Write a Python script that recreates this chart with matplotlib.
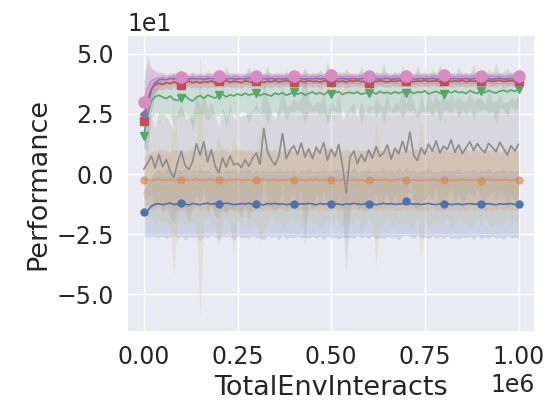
import numpy as np
import matplotlib
matplotlib.use("Agg")
import matplotlib.pyplot as plt
import seaborn as sns

# Training curves: mean performance and spread per run configuration
steps = np.arange(101) * 1e4

blue = [-16.0, -15.2, -13.4, -12.6, -12.3, -12.8, -12.4, -12.1, -12.7, -12.5,
        -12.2, -12.6, -12.9, -12.3, -12.5, -12.8, -12.4, -12.2, -12.6, -12.3,
        -12.7, -12.5, -12.1, -12.4, -12.8, -12.6, -12.3, -12.5, -12.2, -12.7,
        -12.4, -12.6, -12.9, -12.3, -12.5, -12.2, -12.6, -12.4, -12.8, -12.5,
        -12.3, -12.7, -12.4, -12.6, -12.2, -12.5, -12.8, -12.3, -12.6, -12.4,
        -12.7, -12.3, -12.5, -12.9, -12.4, -12.6, -12.2, -12.5, -12.7, -12.3,
        -12.6, -12.4, -12.8, -12.5, -12.2, -12.6, -12.3, -12.7, -12.5, -12.4,
        -11.3, -12.3, -12.6, -12.4, -12.7, -12.5, -12.2, -12.6, -12.8, -12.4,
        -12.5, -12.3, -12.7, -12.6, -12.4, -12.8, -12.5, -12.3, -12.6, -12.4,
        -12.7, -12.5, -12.3, -12.6, -12.8, -12.4, -12.6, -12.5, -12.3, -12.7, -12.5]
blue_sd = [10, 11, 12.5, 13.5, 14.2, 13.1, 14.6, 13.8, 12.9, 14.4,
           13.6, 14.9, 13.2, 14.1, 13.7, 15.2, 13.4, 14.3, 12.8, 13.9,
           14.7, 13.3, 14.0, 13.6, 14.8, 13.1, 14.2, 13.7, 14.5, 13.0,
           14.1, 13.8, 14.6, 13.3, 14.0, 13.5, 14.9, 13.2, 14.3, 13.7,
           14.4, 13.1, 14.2, 13.8, 14.6, 13.4, 14.0, 13.6, 14.7, 13.2,
           14.1, 13.9, 14.5, 13.3, 14.2, 13.7, 14.8, 13.1, 14.0, 13.6,
           14.4, 13.2, 14.3, 13.8, 14.6, 13.4, 14.1, 13.5, 14.9, 13.3,
           14.2, 13.7, 14.5, 13.0, 14.1, 13.8, 14.7, 13.2, 14.0, 13.6,
           14.4, 13.3, 14.2, 13.9, 14.6, 13.4, 14.0, 13.5, 14.8, 13.2,
           14.3, 13.7, 14.5, 13.1, 14.1, 13.8, 14.6, 13.3, 14.2, 13.6, 14.4]

orange = [-2.6, -2.3, -2.8, -2.4, -2.1, -2.7, -2.5, -2.2, -2.9, -2.4,
          -2.6, -2.3, -2.7, -2.5, -2.1, -2.8, -2.4, -2.6, -2.2, -2.7,
          -2.5, -2.3, -2.8, -2.4, -2.6, -2.2, -2.7, -2.5, -2.3, -2.9,
          -2.4, -2.6, -2.1, -2.7, -2.5, -2.3, -2.8, -2.4, -2.6, -2.2,
          -2.7, -2.5, -2.3, -2.8, -2.4, -2.6, -2.2, -2.7, -2.5, -2.3,
          -2.6, -2.4, -2.8, -2.2, -2.5, -2.7, -2.3, -2.6, -2.4, -2.9,
          -2.5, -2.2, -2.7, -2.4, -2.6, -2.3, -2.8, -2.5, -2.2, -2.6,
          -2.4, -2.7, -2.3, -2.5, -2.8, -2.4, -2.6, -2.2, -2.7, -2.5,
          -2.3, -2.6, -2.4, -2.8, -2.5, -2.2, -2.7, -2.4, -2.6, -2.3,
          -2.8, -2.5, -2.2, -2.6, -2.4, -2.7, -2.3, -2.5, -2.8, -2.4, -2.6]
orange_sd = [10, 11, 12, 12.5, 11.8, 13.2, 12.4, 11.6, 12.9, 12.1,
             12.7, 11.9, 13.0, 12.3, 11.7, 12.8, 12.2, 13.1, 11.8, 12.6,
             12.0, 13.3, 12.4, 11.9, 12.7, 12.1, 13.0, 11.6, 12.5, 12.9,
             12.2, 11.8, 13.2, 12.4, 12.0, 12.8, 11.7, 12.6, 13.1, 12.3,
             11.9, 12.7, 12.2, 13.0, 12.5, 11.8, 12.9, 12.1, 12.6, 13.2,
             12.4, 11.7, 12.8, 12.0, 13.1, 12.3, 11.9, 12.7, 12.2, 12.9,
             12.5, 11.8, 13.0, 12.1, 12.6, 12.4, 11.6, 12.8, 13.2, 12.0,
             12.7, 12.3, 11.9, 12.9, 12.2, 13.1, 12.5, 11.8, 12.6, 12.4,
             13.0, 12.1, 12.7, 11.9, 12.8, 12.3, 13.2, 12.0, 12.6, 12.5,
             11.8, 12.9, 12.2, 13.0, 12.4, 11.7, 12.8, 12.1, 12.6, 12.3, 12.7]

green = [16.0, 25.0, 30.5, 32.2, 32.8, 32.0, 31.4, 32.5, 31.0, 30.6,
         31.8, 32.6, 31.2, 30.4, 31.9, 32.7, 31.5, 32.9, 32.2, 31.6,
         32.8, 33.3, 32.1, 33.0, 32.5, 33.4, 32.7, 33.6, 32.9, 33.2,
         33.8, 32.6, 33.5, 33.0, 32.4, 33.7, 33.1, 33.9, 32.8, 33.4,
         34.0, 33.2, 33.8, 32.9, 33.5, 34.2, 33.3, 33.9, 33.0, 34.1,
         33.4, 33.9, 34.3, 33.1, 33.8, 34.0, 33.5, 34.2, 33.2, 33.7,
         33.6, 34.1, 33.3, 34.4, 33.7, 34.0, 33.4, 34.3, 33.6, 34.1,
         33.8, 34.5, 33.5, 34.2, 33.9, 34.6, 33.3, 34.0, 34.4, 33.7,
         33.2, 34.3, 33.8, 34.6, 33.9, 34.2, 33.5, 34.7, 34.0, 33.6,
         34.4, 33.9, 34.8, 34.1, 33.7, 34.5, 34.9, 34.2, 35.0, 34.4, 35.3]
green_sd = [6, 8, 7.5, 6.8, 7.2, 9.5, 6.4, 7.9, 11.2, 6.9,
            7.4, 8.8, 6.6, 12.5, 7.1, 8.2, 6.7, 10.4, 7.5, 6.9,
            8.6, 7.2, 13.1, 6.8, 7.7, 9.3, 6.5, 8.0, 11.8, 7.3,
            6.9, 8.4, 7.6, 12.2, 6.7, 7.9, 9.0, 6.8, 10.6, 7.4,
            8.1, 6.6, 7.8, 11.5, 7.0, 8.5, 6.9, 9.7, 7.3, 12.8,
            6.8, 7.6, 8.9, 6.5, 10.2, 7.4, 8.0, 6.7, 11.9, 7.2,
            8.3, 6.9, 9.6, 7.5, 12.4, 6.8, 7.7, 8.6, 6.6, 10.8,
            7.3, 8.2, 6.9, 11.3, 7.6, 8.8, 6.7, 9.9, 7.1, 12.0,
            6.8, 7.9, 8.4, 6.6, 10.5, 7.4, 8.7, 6.9, 11.6, 7.2,
            8.0, 6.8, 9.4, 7.5, 12.6, 6.9, 7.8, 10.1, 6.7, 8.3, 7.4]

red = [22.0, 30.5, 35.5, 37.2, 37.8, 37.3, 38.1, 37.6, 38.4, 37.9,
       37.2, 38.3, 38.7, 38.0, 38.5, 37.9, 38.6, 38.2, 38.8, 38.1,
       38.6, 38.3, 38.9, 38.2, 38.7, 38.4, 38.0, 38.8, 38.5, 38.2,
       38.9, 38.6, 38.1, 38.7, 38.4, 38.9, 38.3, 38.6, 39.0, 38.5,
       38.2, 38.8, 38.6, 38.3, 38.9, 38.5, 38.7, 38.2, 38.8, 38.6,
       38.4, 38.9, 38.5, 38.7, 38.3, 38.8, 38.6, 39.0, 38.4, 38.7,
       37.9, 38.8, 38.5, 38.9, 38.6, 38.3, 38.8, 38.5, 38.9, 38.7,
       38.6, 38.9, 38.4, 38.8, 38.6, 39.0, 38.5, 38.7, 38.9, 38.4,
       38.7, 38.9, 38.5, 38.8, 38.6, 39.0, 38.4, 38.8, 38.6, 38.9,
       38.7, 38.5, 38.9, 38.6, 38.8, 39.1, 38.5, 38.7, 38.9, 38.6, 38.8]
red_sd = [8, 6, 4, 3, 2.6, 2.4, 2.2, 2.5, 2.1, 2.3,
          2.6, 2.2, 2.4, 2.0, 2.5, 2.3, 2.1, 2.6, 2.2, 2.4,
          2.0, 2.5, 2.3, 2.1, 2.6, 2.2, 2.4, 2.0, 2.5, 2.3,
          2.2, 2.6, 2.1, 2.4, 2.3, 2.0, 2.5, 2.2, 2.4, 2.1,
          2.6, 2.3, 2.0, 2.5, 2.2, 2.4, 2.1, 2.6, 2.3, 2.0,
          2.5, 2.2, 2.4, 2.1, 2.6, 2.3, 2.0, 2.5, 2.2, 2.4,
          2.1, 2.6, 2.3, 2.0, 2.5, 2.2, 2.4, 2.1, 2.6, 2.3,
          2.0, 2.5, 2.2, 2.4, 2.1, 2.6, 2.3, 2.0, 2.5, 2.2,
          2.4, 2.1, 2.6, 2.3, 2.0, 2.5, 2.2, 2.4, 2.1, 2.6,
          2.3, 2.0, 2.5, 2.2, 2.4, 2.1, 2.6, 2.3, 2.0, 2.5, 2.2]

purple = [25.0, 29.0, 35.0, 38.0, 39.2, 39.5, 39.3, 39.8, 39.6, 39.9,
          39.4, 39.7, 39.5, 39.9, 39.6, 39.8, 39.4, 39.7, 39.9, 39.5,
          39.8, 39.6, 39.4, 39.9, 39.7, 39.5, 39.8, 39.6, 39.9, 39.4,
          39.7, 39.5, 39.8, 39.6, 39.9, 39.4, 39.7, 39.5, 39.8, 39.6,
          39.9, 39.5, 39.7, 39.4, 39.8, 39.6, 39.9, 39.5, 39.7, 39.6,
          39.8, 39.4, 39.7, 39.9, 39.5, 39.6, 39.8, 39.4, 39.7, 39.9,
          39.5, 39.6, 39.8, 39.4, 39.7, 39.9, 39.5, 39.6, 39.8, 39.4,
          39.7, 39.9, 39.5, 39.6, 39.8, 39.4, 39.7, 39.9, 39.5, 39.6,
          39.8, 39.4, 39.7, 39.9, 39.5, 39.6, 39.8, 39.4, 39.7, 39.9,
          39.5, 39.6, 39.8, 39.4, 39.7, 39.9, 39.5, 39.6, 39.8, 39.4, 39.7]
purple_sd = [14, 20, 9, 5, 3, 2.5, 2.2, 2.0, 2.3, 2.1,
             2.0, 2.2, 2.1, 2.3, 2.0, 2.2, 2.1, 2.0, 2.3, 2.1,
             2.2, 2.0, 2.1, 2.3, 2.2, 2.0, 2.1, 2.2, 2.3, 2.0,
             2.1, 2.2, 2.0, 2.3, 2.1, 2.2, 2.0, 2.1, 2.3, 2.2,
             2.0, 2.1, 2.2, 2.3, 2.0, 2.1, 2.2, 2.0, 2.3, 2.1,
             2.2, 2.0, 2.1, 2.3, 2.2, 2.0, 2.1, 2.2, 2.3, 2.0,
             2.1, 2.2, 2.0, 2.3, 2.1, 2.2, 2.0, 2.1, 2.3, 2.2,
             2.0, 2.1, 2.2, 2.3, 2.0, 2.1, 2.2, 2.0, 2.3, 2.1,
             2.2, 2.0, 2.1, 2.3, 2.2, 2.0, 2.1, 2.2, 2.3, 2.0,
             2.1, 2.2, 2.0, 2.3, 2.1, 2.2, 2.0, 2.1, 2.3, 2.2, 2.1]

pink = [30.0, 36.0, 39.0, 39.6, 40.1, 40.3, 39.8, 40.4, 40.6, 40.2,
        40.5, 40.9, 40.3, 40.6, 40.1, 40.7, 40.4, 40.8, 40.2, 40.6,
        40.9, 40.4, 40.7, 40.3, 40.8, 40.5, 40.1, 40.6, 40.9, 40.4,
        40.7, 40.2, 40.6, 40.8, 40.3, 40.7, 40.5, 40.9, 40.4, 40.6,
        41.0, 40.5, 40.3, 40.8, 40.6, 40.2, 40.7, 40.9, 40.4, 40.6,
        41.1, 40.6, 40.3, 40.8, 40.5, 40.9, 40.4, 40.6, 40.8, 40.3,
        40.9, 40.5, 40.7, 40.2, 40.8, 40.6, 40.4, 40.9, 40.5, 40.7,
        41.0, 40.4, 40.6, 40.9, 40.3, 40.7, 40.5, 40.8, 40.6, 40.4,
        41.1, 40.6, 40.8, 40.3, 40.7, 40.9, 40.5, 40.6, 40.8, 40.4,
        41.0, 40.7, 40.5, 40.9, 40.6, 40.8, 40.4, 40.7, 40.9, 40.6, 40.8]
pink_sd = [9, 9, 5, 3, 2.4, 2.0, 1.8, 1.6, 1.9, 1.7,
           1.5, 1.8, 1.6, 1.9, 1.7, 1.5, 1.8, 1.6, 1.9, 1.7,
           1.6, 1.8, 1.5, 1.9, 1.7, 1.6, 1.8, 1.5, 1.9, 1.7,
           1.6, 1.8, 1.5, 1.9, 1.7, 1.6, 1.8, 1.5, 1.9, 1.7,
           1.6, 1.8, 1.5, 1.9, 1.7, 1.6, 1.8, 1.5, 1.9, 1.7,
           1.6, 1.8, 1.5, 1.9, 1.7, 1.6, 1.8, 1.5, 1.9, 1.7,
           1.6, 1.8, 1.5, 1.9, 1.7, 1.6, 1.8, 1.5, 1.9, 1.7,
           1.6, 1.8, 1.5, 1.9, 1.7, 1.6, 1.8, 1.5, 1.9, 1.7,
           1.6, 1.8, 1.5, 1.9, 1.7, 1.6, 1.8, 1.5, 1.9, 1.7,
           1.6, 1.8, 1.5, 1.9, 1.7, 1.6, 1.8, 1.5, 1.9, 1.7, 1.6]

gray = [2.0, 4.6, 7.5, 2.5, 8.2, 3.0, 6.1, 1.2, -1.5, 4.8,
        9.4, 3.6, 1.8, 5.2, 12.6, 7.8, 13.4, 5.0, 10.2, 3.4,
        0.5, 6.8, 2.9, 7.6, 3.8, 4.4, 2.7, 5.9, 3.2, 6.5,
        8.8, 4.1, 19.0, 9.2, 6.0, 3.7, 7.4, 16.8, 6.3, 9.7,
        11.8, 8.1, 12.9, 7.0, 10.5, 6.4, 11.2, 8.6, 13.1, 5.8,
        10.3, 7.2, 12.4, 3.5, -8.0, 6.9, 9.6, 4.3, 8.1, 5.2,
        9.9, 6.6, 11.4, 7.3, 8.8, 12.1, 6.2, 10.7, 8.4, 13.6,
        9.1, 17.5, 7.8, 5.6, 10.9, 8.3, 12.5, 9.4, 13.8, 8.7,
        11.6, 10.2, 14.3, 9.0, 12.2, 8.5, 11.0, 13.5, 9.8, 12.7,
        10.4, 8.9, 12.8, 11.1, 9.3, 13.2, 10.6, 7.9, 11.7, 9.6, 12.4]
gray_sd = [12, 14, 16, 17, 18, 19, 18, 20, 19, 21,
           20, 19, 22, 18, 21, 20, 19, 22, 20, 21,
           19, 21, 20, 22, 19, 20, 21, 19, 22, 20,
           21, 19, 20, 22, 20, 19, 21, 20, 22, 19,
           20, 21, 19, 37, 20, 22, 19, 21, 20, 19,
           21, 20, 22, 19, 33, 21, 20, 19, 22, 20,
           19, 21, 20, 22, 19, 21, 20, 19, 21, 22,
           20, 19, 21, 20, 22, 19, 21, 20, 19, 21,
           22, 20, 19, 21, 20, 22, 19, 21, 20, 19,
           21, 20, 22, 19, 21, 20, 19, 22, 20, 21, 20]

olive = [-8.0, -6.5, -4.2, -7.1, -3.5, -6.8, -5.0, -8.2, -4.6, -6.3,
         -3.9, -7.4, -5.5, -4.1, -6.9, -5.0, -5.2, -3.8, -6.6, -4.9,
         -7.7, -5.8, -3.6, -6.2, -8.4, -4.7, -5.9, -3.3, -7.0, -5.1,
         -6.4, -4.0, -7.9, -5.3, -3.7, -6.7, -4.5, -8.1, -5.6, -3.9,
         -6.0, -4.3, -7.2, -5.0, -3.5, -6.8, -4.8, -7.5, -5.4, -4.1,
         -6.6, -3.8, -5.7, -7.3, -4.4, -6.1, -5.0, -3.6, -7.8, -5.2,
         -4.0, -6.5, -8.9, -4.6, -5.9, -3.4, -7.0, -5.5, -4.2, -6.3,
         -4.9, -7.6, -5.3, -3.7, -6.4, -4.5, -7.1, -5.8, -3.9, -6.0,
         -5.1, -4.3, -7.4, -5.6, -3.8, -6.7, -4.7, -7.9, -5.0, -4.1,
         -6.2, -3.6, -5.4, -7.2, -4.4, -6.9, -5.2, -3.5, -6.6, -4.8, -5.7]
olive_sd = [8, 12, 13.5, 14.2, 15.0, 13.8, 14.6, 15.3, 38, 14.1,
            15.2, 13.7, 14.8, 16.0, 14.3, 55, 15.1, 13.9, 14.7, 15.4,
            23.5, 14.2, 15.0, 13.6, 24.6, 14.9, 15.5, 14.0, 16.2, 14.4,
            15.1, 25, 14.3, 15.7, 13.9, 14.8, 15.4, 14.1, 16.0, 14.6,
            15.2, 14.0, 15.8, 14.5, 15.0, 13.8, 15.6, 14.2, 16.1, 14.7,
            15.3, 14.1, 15.9, 14.4, 15.0, 14.6, 15.5, 13.9, 16.3, 14.8,
            15.1, 14.3, 31, 14.9, 15.6, 14.0, 15.3, 14.5, 16.0, 14.2,
            15.4, 14.7, 15.9, 14.1, 28.6, 14.8, 15.2, 14.4, 16.1, 14.6,
            15.0, 14.2, 15.7, 14.9, 15.3, 14.0, 15.8, 14.5, 16.2, 14.3,
            15.5, 14.7, 15.1, 14.4, 15.9, 14.1, 15.6, 14.8, 15.2, 14.5, 15.0]

sns.set_theme(style="darkgrid")
pal = sns.color_palette("deep")

fig = plt.figure(figsize=(5.53, 4.03), dpi=100)
ax = fig.add_axes([0.2297, 0.1762, 0.7378, 0.7370])

series = [
    (blue, blue_sd, pal[0], "o", 5, 1.0),
    (orange, orange_sd, pal[1], "o", 5, 0.6),
    (green, green_sd, pal[2], "v", 6, 1.0),
    (red, red_sd, pal[3], "s", 6, 1.0),
    (purple, purple_sd, pal[4], "D", 4, 1.0),
    (pink, pink_sd, pal[6], "o", 8, 1.0),
    (gray, gray_sd, pal[7], None, 0, 1.0),
    (olive, olive_sd, pal[8], None, 0, 0.5),
]

for mean, sd, col, mk, ms, la in series:
    m = np.asarray(mean)
    s = np.asarray(sd)
    ax.fill_between(steps, m - s, m + s, color=col, alpha=0.2, linewidth=0)
    ax.plot(steps, m, color=col, lw=1.2, alpha=la, marker=mk, ms=ms,
            markevery=(0, 10))

ax.set_xlim(-0.045e6, 1.044e6)
ax.set_ylim(-65.8, 57.9)
ax.set_xticks([0, 0.25e6, 0.5e6, 0.75e6, 1.0e6])
ax.set_yticks([-50, -25, 0, 25, 50])
ax.ticklabel_format(style="sci", axis="both", scilimits=(0, 0))
ax.tick_params(labelsize=17)
ax.xaxis.get_offset_text().set_fontsize(17)
ax.yaxis.get_offset_text().set_fontsize(17)
ax.set_xlabel("TotalEnvInteracts", fontsize=19.5)
ax.set_ylabel("Performance", fontsize=19.5)

fig.savefig("out.png", dpi=100)
